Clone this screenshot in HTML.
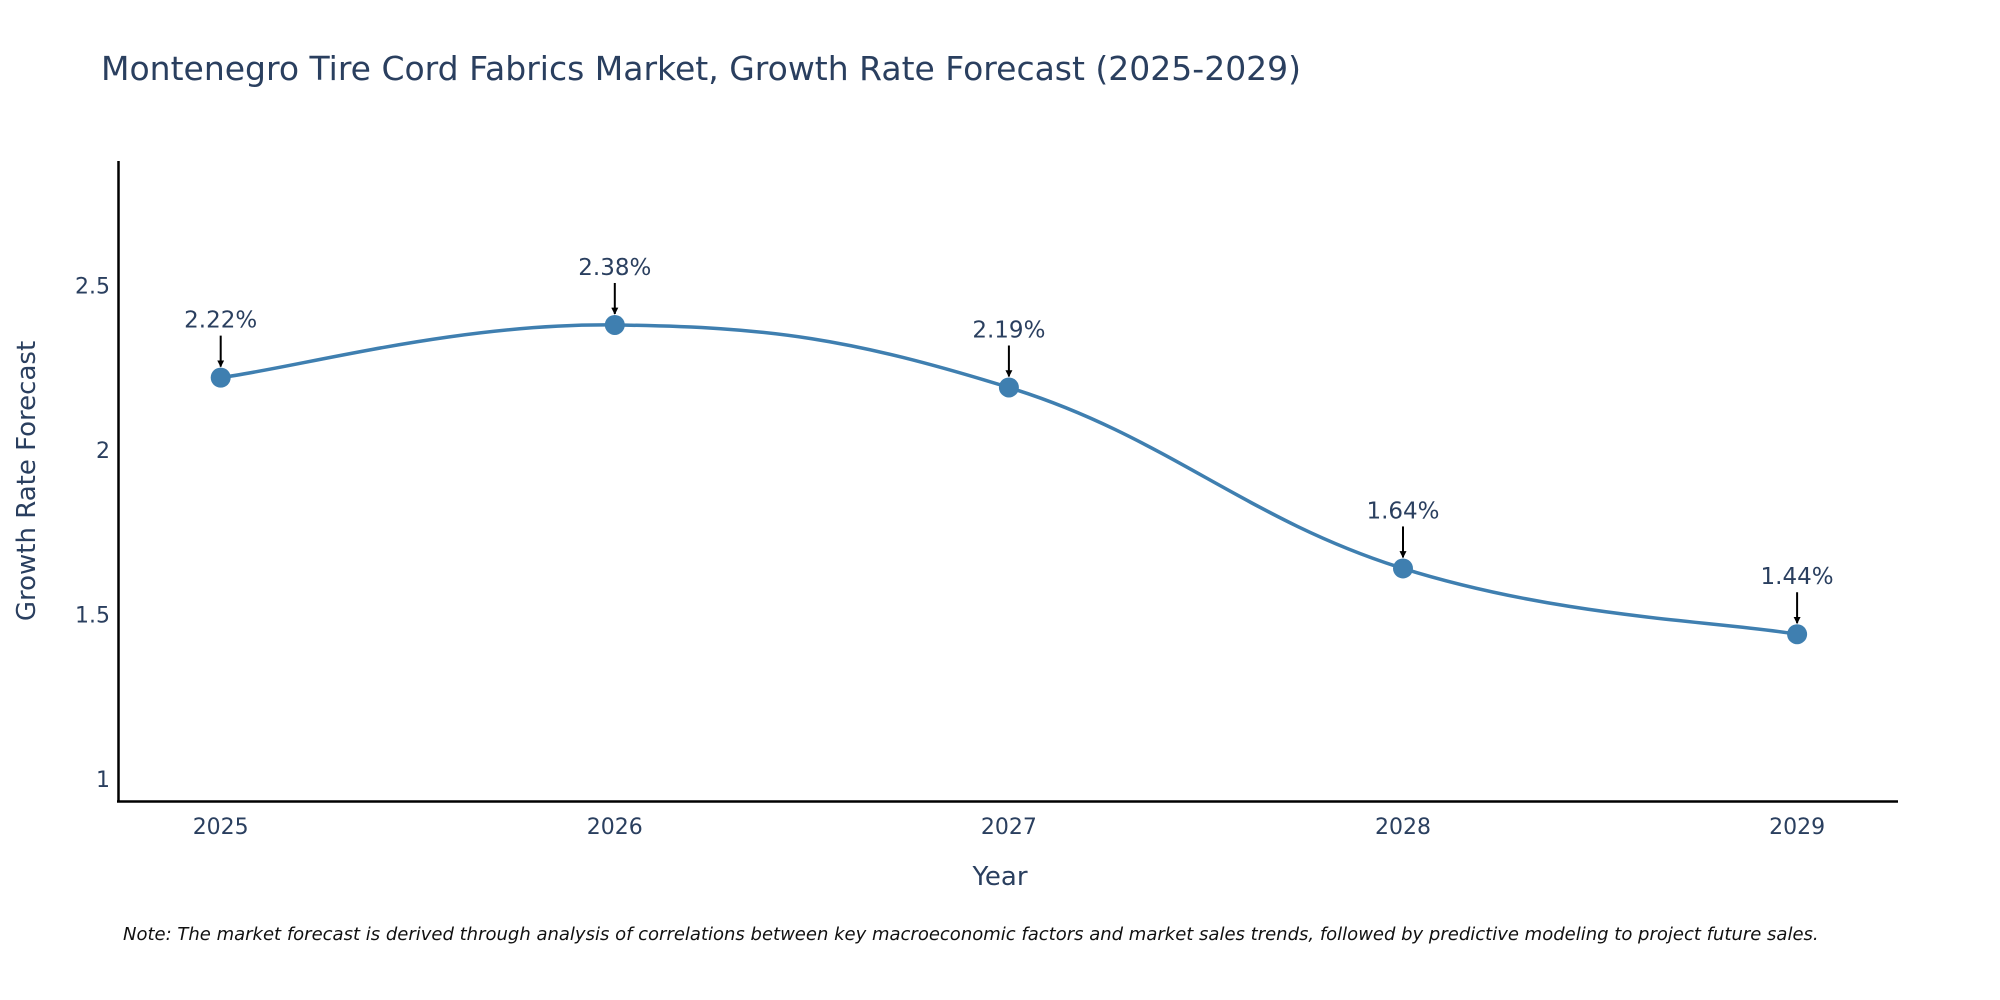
<!DOCTYPE html>
<html><head><meta charset="utf-8">
<style>
body{margin:0;background:#fff;overflow:hidden;}
svg{display:block;font-family:"DejaVu Sans","Liberation Sans",sans-serif;}
</style></head>
<body>
<svg id="chart" width="2000" height="1000" viewBox="0 0 2000 1000">
<defs><marker id="ah" viewBox="0 0 10 10" refX="9" refY="5" markerWidth="7" markerHeight="7" markerUnits="userSpaceOnUse" orient="auto"><path d="M0,0 L10,5 L0,10 z" fill="#000"/></marker></defs>
<text x="101" y="80" font-size="33" fill="#2a3f5f">Montenegro Tire Cord Fabrics Market, Growth Rate Forecast (2025-2029)</text>
<g id="plot"></g>
<line x1="118.5" y1="161" x2="118.5" y2="802" stroke="#000" stroke-width="2.5"/>
<line x1="117" y1="801.5" x2="1898" y2="801.5" stroke="#000" stroke-width="2.5"/>
<text x="1000" y="885" font-size="26" fill="#2a3f5f" text-anchor="middle">Year</text>
<text transform="translate(35,481) rotate(-90)" font-size="26" fill="#2a3f5f" text-anchor="middle">Growth Rate Forecast</text>
<text x="123" y="940" font-size="18" font-style="italic" fill="#111">Note: The market forecast is derived through analysis of correlations between key macroeconomic factors and market sales trends, followed by predictive modeling to project future sales.</text>
</svg>
<script>
const years = [2025, 2026, 2027, 2028, 2029];
const values = [2.22, 2.38, 2.19, 1.64, 1.44];
const labels = ["2.22%", "2.38%", "2.19%", "1.64%", "1.44%"];
const yTicks = [1, 1.5, 2, 2.5];
const yTickLabels = ["1", "1.5", "2", "2.5"];

const NS = "http://www.w3.org/2000/svg";
const g = document.getElementById("plot");
function xs(yr){ return 220.7 + (yr - 2025) * 394.1; }
function ys(v){ return 779 - (v - 1) * 329; }
function mk(tag, attrs){ const e = document.createElementNS(NS, tag); for (const k in attrs) e.setAttribute(k, attrs[k]); g.appendChild(e); return e; }

yTicks.forEach((t, i) => {
  const e = mk("text", {x: 110, y: ys(t) + 8, "font-size": 22, fill: "#2a3f5f", "text-anchor": "end"});
  e.textContent = yTickLabels[i];
  
  
});
years.forEach(yr => {
  const e = mk("text", {x: xs(yr), y: 834, "font-size": 22, fill: "#2a3f5f", "text-anchor": "middle"});
  e.textContent = String(yr);
  
  
});

const pts = years.map((yr, i) => [xs(yr), ys(values[i])]);
let d = "M" + pts[0][0] + "," + pts[0][1];
const s = 0.2;
for (let i = 0; i < pts.length - 1; i++) {
  const p0 = pts[Math.max(0, i - 1)], p1 = pts[i], p2 = pts[i + 1], p3 = pts[Math.min(pts.length - 1, i + 2)];
  const c1 = [p1[0] + (p2[0] - p0[0]) * s, p1[1] + (p2[1] - p0[1]) * s];
  const c2 = [p2[0] - (p3[0] - p1[0]) * s, p2[1] - (p3[1] - p1[1]) * s];
  d += " C" + c1.join(",") + " " + c2.join(",") + " " + p2.join(",");
}
const line = mk("path", {d: d, fill: "none", stroke: "#3f7fb0", "stroke-width": 3.5});



pts.forEach((p, i) => {
  const c = mk("circle", {cx: p[0], cy: p[1], r: 10, fill: "#3f7fb0"});
  
  
  const a = mk("line", {x1: p[0], y1: p[1] - 42, x2: p[0], y2: p[1] - 11, stroke: "#000", "stroke-width": 2, "marker-end": "url(#ah)"});
  
  
  const t = mk("text", {x: p[0], y: p[1] - 50, "font-size": 23, fill: "#2a3f5f", "text-anchor": "middle"});
  t.textContent = labels[i];
  
  
});
</script>
</body></html>
